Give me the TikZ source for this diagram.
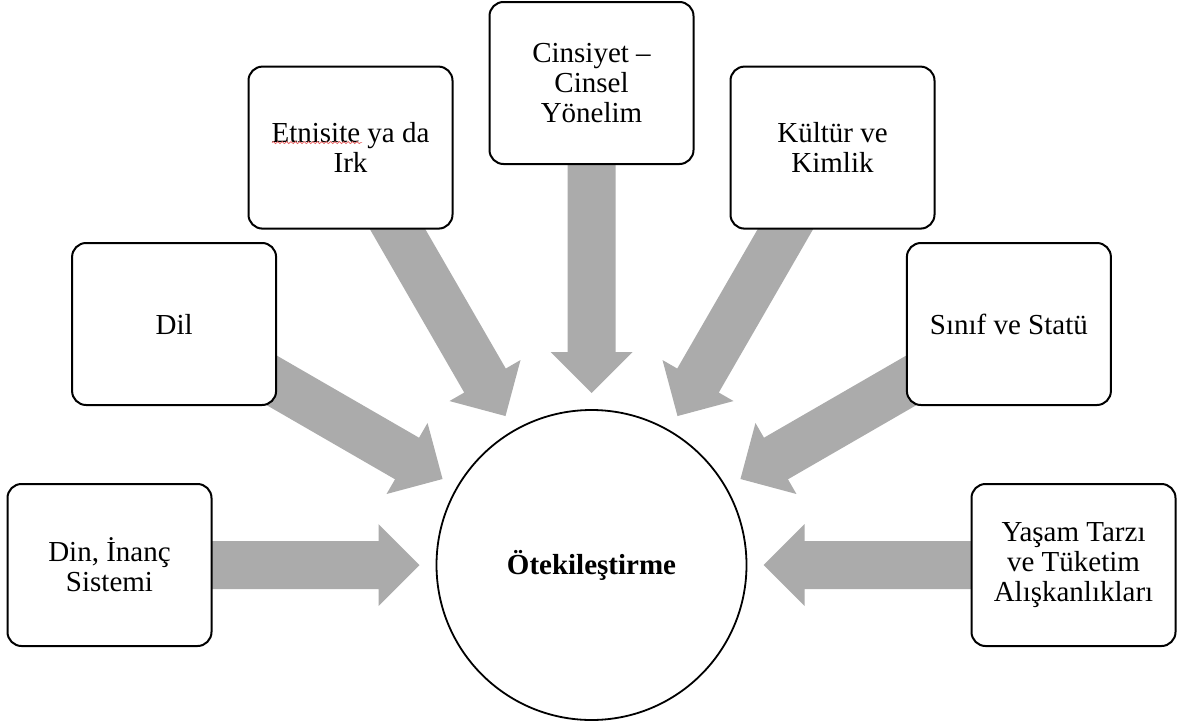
\documentclass[tikz,border=0pt]{standalone}
\usepackage{fontspec}
\setmainfont{Liberation Serif}
\usetikzlibrary{calc,decorations.pathmorphing}
\pgfdeclarelayer{background}
\pgfsetlayers{background,main}
\definecolor{arrowgray}{RGB}{171,171,171}
\definecolor{spellred}{RGB}{230,90,90}
\newcommand\blockarrow[2]{%
  \path ($(#2)!20.5pt!(#1)$) coordinate (h);
  \fill[arrowgray] ($(h)!12pt!90:(#1)$) -- ($(#1)!12pt!-90:(h)$) -- ($(#1)!12pt!90:(h)$)
     -- ($(h)!12pt!-90:(#1)$) -- ($(h)!20.5pt!-90:(#1)$) -- (#2) -- ($(h)!20.5pt!90:(#1)$) -- cycle;}
\begin{document}
\begin{tikzpicture}[x=0.5pt,y=-0.5pt,
  box/.style={draw, line width=1pt, rounded corners=7pt, minimum width=102pt,
    minimum height=81pt, align=center, fill=white, inner sep=0pt,
    font=\fontsize{14.5}{15}\selectfont},
  hub/.style={circle, draw, line width=0.9pt, minimum size=155pt, fill=white,
    inner sep=0pt, font=\fontsize{14.5}{15}\selectfont\bfseries}]
\useasboundingbox (0,0) rectangle (1178,728);
\node[hub] (o) at (591.5,565) {Ötekileştirme};
\node[box] (b1) at (109.5,565) {Din, İnanç\\Sistemi};
\node[box] (b2) at (174.1,324) {Dil};
\node[box] (b3) at (350.5,147.6) {Etnisite ya da\\Irk};
\node[box] (b4) at (591.5,83) {Cinsiyet –\\Cinsel\\Yönelim};
\node[box] (b5) at (832.5,147.6) {Kültür ve\\Kimlik};
\node[box] (b6) at (1008.9,324) {Sınıf ve Statü};
\node[box] (b7) at (1073.5,565) {Yaşam Tarzı\\ve Tüketim\\Alışkanlıkları};
\foreach \i in {1,...,7}{\coordinate (t\i) at ($(o.center)!86pt!(b\i.center)$);}
\begin{pgfonlayer}{background}
\foreach \i in {1,...,7}{\blockarrow{b\i.center}{t\i}}
\end{pgfonlayer}
\draw[spellred, line width=0.35pt, decorate, decoration={snake, amplitude=0.5pt, segment length=2.2pt}]
  ($(b3.center)+(-78.5,-5)$) -- ($(b3.center)+(11.5,-5)$);
\end{tikzpicture}
\end{document}
